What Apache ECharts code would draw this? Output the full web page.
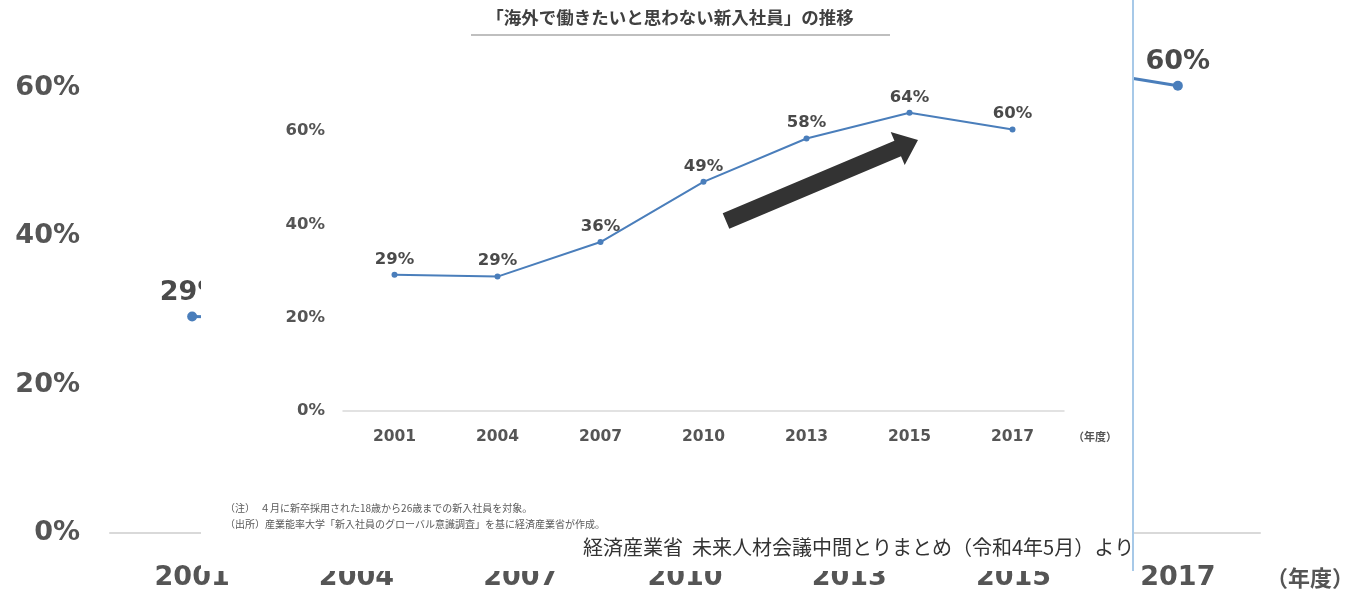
<!DOCTYPE html>
<html><head><meta charset="utf-8">
<script src="https://cdn.jsdelivr.net/npm/echarts@6/dist/echarts.min.js"></script>
<style>
html,body{margin:0;padding:0;background:#fff;overflow:hidden;width:1346px;height:591px}
#bg{position:absolute;left:0;top:0;width:1346px;height:591px}
#fg{position:absolute;left:201px;top:0;width:931px;height:571px;background:#fff;border-right:2px solid #a7c9e8}
</style></head><body>
<div id="bg"></div><div id="fg"></div>
<script>
const years = ['2001', '2004', '2007', '2010', '2013', '2015', '2017'];
const shares = [29.2, 28.8, 36.2, 49.1, 58.4, 63.9, 60.3];
const yMin = 0, yMax = 60, yStep = 20;
const titleText = '「海外で働きたいと思わない新入社員」の推移';
const unitText = '（年度）';
const note1 = '（注）　４月に新卒採用された18歳から26歳までの新入社員を対象。';
const note2 = '（出所）産業能率大学「新入社員のグローバル意識調査」を基に経済産業省が作成。';
const sourceText = '経済産業省  未来人材会議中間とりまとめ（令和4年5月）より';

const NUM = 'Verdana, "DejaVu Sans", sans-serif';
const JP = '"Noto Sans CJK JP", sans-serif';
const LINE = '#4a7ebb';
const TXT = '#555555';
const pct = p => Math.round(p.value) + '%';

function chartOption(s) {
  return {
    animation: false,
    grid: s.grid,
    xAxis: {
      type: 'category', data: years, boundaryGap: true,
      axisLine: {lineStyle: {color: '#d9d9d9', width: s.axisW}},
      axisTick: {show: false},
      axisLabel: {margin: s.xMargin, fontSize: s.xFont, fontWeight: 'bold', color: TXT, fontFamily: NUM}
    },
    yAxis: {
      type: 'value', min: yMin, max: yMax, interval: yStep,
      axisLine: {show: false}, axisTick: {show: false}, splitLine: {show: false},
      axisLabel: {formatter: '{value}%', margin: s.yMargin, fontSize: s.yFont, fontWeight: 'bold', color: TXT, fontFamily: NUM}
    },
    series: [{
      type: 'line', data: shares, clip: false,
      symbol: 'circle', symbolSize: s.sym,
      lineStyle: {color: LINE, width: s.lw}, itemStyle: {color: LINE},
      label: {show: true, position: 'top', distance: s.labDist, formatter: pct,
        fontSize: s.labFont, fontWeight: 'bold', color: '#4a4a4a', fontFamily: NUM}
    }],
    graphic: s.graphic
  };
}

const bg = echarts.init(document.getElementById('bg'), null, {renderer: 'canvas'});
bg.setOption(chartOption({
  grid: {left: 110, right: 86, top: 88, bottom: 54},
  axisW: 2, xMargin: 31, yMargin: 30, xFont: 27, yFont: 27, sym: 10, lw: 3, labDist: 5, labFont: 27,
  graphic: [{type: 'text', x: 1310, y: 578, style: {text: unitText, align: 'center', verticalAlign: 'middle', fill: TXT, font: 'bold 22px ' + JP}}]
}));

const fg = echarts.init(document.getElementById('fg'), null, {renderer: 'canvas'});
fg.setOption(chartOption({
  grid: {left: 142, right: 68, top: 131, bottom: 160},
  axisW: 1.5, xMargin: 18, yMargin: 18, xFont: 15.5, yFont: 16.5, sym: 6, lw: 2, labDist: 4, labFont: 16.5,
  graphic: [
    {type: 'text', x: 469, y: 17, style: {text: titleText, align: 'center', verticalAlign: 'middle', fill: '#404040', font: 'bold 17.5px ' + JP}},
    {type: 'line', shape: {x1: 270, y1: 35, x2: 689, y2: 35}, style: {stroke: '#bfbfbf', lineWidth: 2}},
    {type: 'text', x: 894, y: 437, style: {text: unitText, align: 'center', verticalAlign: 'middle', fill: TXT, font: 'bold 11px ' + JP}},
    {type: 'text', x: 24, y: 508, style: {text: note1, verticalAlign: 'middle', fill: '#595959', font: '10px ' + JP}},
    {type: 'text', x: 24, y: 524, style: {text: note2, verticalAlign: 'middle', fill: '#595959', font: '10px ' + JP}},
    {type: 'text', x: 382, y: 547, style: {text: sourceText, verticalAlign: 'middle', fill: '#333333', font: '20px ' + JP}},
    {type: 'polygon', shape: {points: [[521.7, 213.2], [693.4, 140.7], [689.7, 131.9], [717, 140], [703.7, 165.1], [700, 156.3], [528.3, 228.8]]}, style: {fill: '#333333'}}
  ]
}));
</script>
</body></html>
